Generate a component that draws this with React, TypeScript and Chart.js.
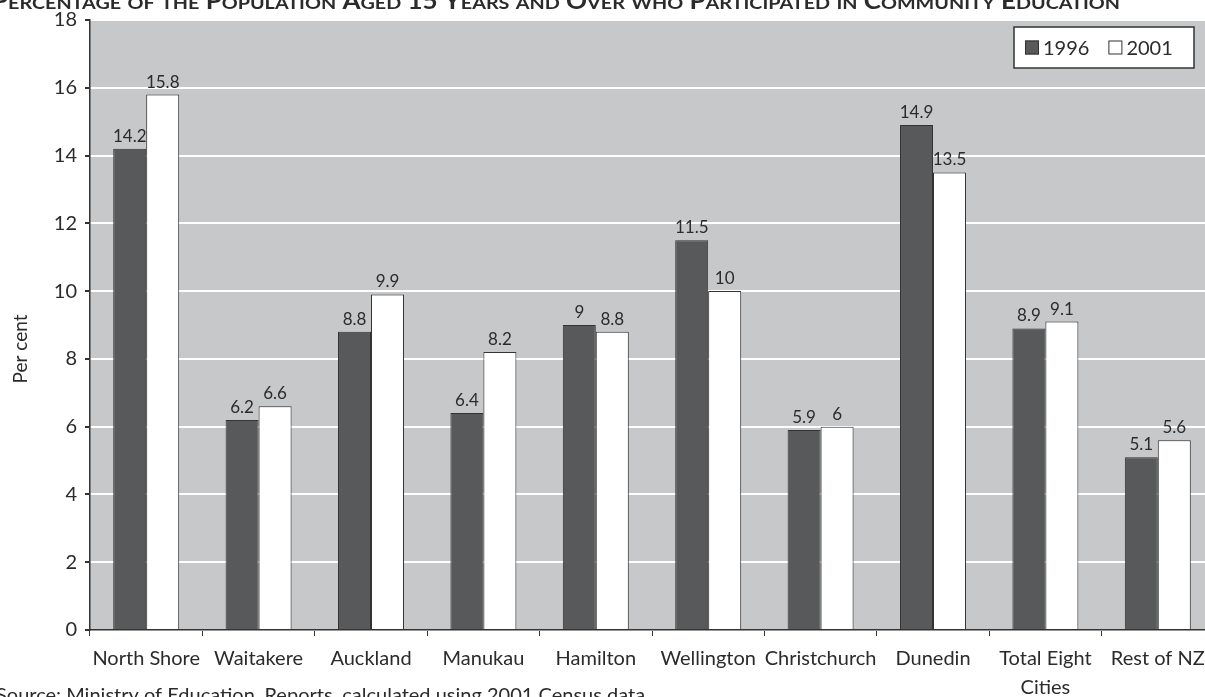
import React, { useEffect, useRef } from "react";
import { Chart, registerables } from "chart.js";

Chart.register(...registerables);

// ---- data ----
const categories: (string | string[])[] = [
  "North Shore",
  "Waitakere",
  "Auckland",
  "Manukau",
  "Hamilton",
  "Wellington",
  "Christchurch",
  "Dunedin",
  ["Total Eight", "Cities"],
  "Rest of NZ",
];
const values1996 = [14.2, 6.2, 8.8, 6.4, 9, 11.5, 5.9, 14.9, 8.9, 5.1];
const values2001 = [15.8, 6.6, 9.9, 8.2, 8.8, 10, 6, 13.5, 9.1, 5.6];
const seriesLabels = ["1996", "2001"];
const yMin = 0;
const yMax = 18;
const yStep = 2;
const titleText =
  "Percentage of the Population Aged 15 Years and Over who Participated in Community Education";
const yAxisTitle = "Per cent";
const sourceText =
  "Source: Ministry of Education, Reports, calculated using 2001 Census data";

// ---- style ----
const FONT = "Lato, 'Open Sans', sans-serif";
const TEXT = "#2b2b2b";
const DARK = "#58595b";
const EDGE = "#333333";
const PLOT_BG = "#c7c8ca";

const CANVAS_W = 1230;
const CANVAS_H = 697;

export default function App() {
  const ref = useRef<HTMLCanvasElement | null>(null);

  useEffect(() => {
    const canvas = ref.current;
    if (!canvas) return;

    const bgPlugin = {
      id: "plotBg",
      beforeDraw(chart: any) {
        const { ctx, chartArea } = chart;
        ctx.save();
        ctx.fillStyle = "#ffffff";
        ctx.fillRect(0, 0, chart.width, chart.height);
        ctx.fillStyle = PLOT_BG;
        ctx.fillRect(
          chartArea.left,
          chartArea.top,
          chartArea.right - chartArea.left,
          chartArea.bottom - chartArea.top
        );
        ctx.restore();
      },
    };

    const labelsPlugin = {
      id: "valueLabels",
      afterDatasetsDraw(chart: any) {
        const { ctx } = chart;
        ctx.save();
        ctx.font = `17px ${FONT}`;
        ctx.fillStyle = TEXT;
        ctx.textAlign = "center";
        ctx.textBaseline = "bottom";
        chart.data.datasets.forEach((ds: any, di: number) => {
          const meta = chart.getDatasetMeta(di);
          meta.data.forEach((el: any, i: number) => {
            ctx.fillText(String(ds.data[i]), el.x, el.y - 4);
          });
        });
        ctx.restore();
      },
    };

    const decorPlugin = {
      id: "decor",
      afterDraw(chart: any) {
        const { ctx } = chart;
        ctx.save();

        // small-caps title (partially cut at the top)
        const big = 23;
        const small = 17.5;
        const runs: { t: string; s: number }[] = [];
        for (const ch of titleText) {
          const isSmall = ch !== ch.toUpperCase();
          const s = isSmall ? small : big;
          const t = isSmall ? ch.toUpperCase() : ch;
          if (runs.length && runs[runs.length - 1].s === s) runs[runs.length - 1].t += t;
          else runs.push({ t, s });
        }
        let total = 0;
        runs.forEach((r) => {
          ctx.font = `bold ${r.s}px ${FONT}`;
          total += ctx.measureText(r.t).width;
        });
        const targetW = 1128;
        const k = targetW / total;
        ctx.save();
        ctx.translate(-8, 9);
        ctx.scale(k, 1);
        let x = 0;
        ctx.fillStyle = TEXT;
        ctx.textAlign = "left";
        ctx.textBaseline = "alphabetic";
        runs.forEach((r) => {
          ctx.font = `bold ${r.s}px ${FONT}`;
          ctx.fillText(r.t, x, 0);
          x += ctx.measureText(r.t).width;
        });
        ctx.restore();

        // y axis title
        ctx.save();
        ctx.translate(21, 349);
        ctx.rotate(-Math.PI / 2);
        ctx.font = `19px ${FONT}`;
        ctx.fillStyle = TEXT;
        ctx.textAlign = "center";
        ctx.textBaseline = "middle";
        ctx.fillText(yAxisTitle, 0, 0);
        ctx.restore();

        // source line (partially cut at the bottom)
        ctx.font = `20px ${FONT}`;
        ctx.fillStyle = TEXT;
        ctx.textAlign = "left";
        ctx.textBaseline = "alphabetic";
        ctx.fillText(sourceText, -4, 702);

        // legend box
        const bx = 1014, by = 27, bw = 180, bh = 41;
        ctx.fillStyle = "#ffffff";
        ctx.fillRect(bx, by, bw, bh);
        ctx.strokeStyle = EDGE;
        ctx.lineWidth = 1.5;
        ctx.strokeRect(bx, by, bw, bh);
        ctx.font = `20px ${FONT}`;
        ctx.textBaseline = "middle";
        let lx = bx + 11;
        const cy = by + bh / 2;
        chart.data.datasets.forEach((ds: any) => {
          ctx.fillStyle = ds.backgroundColor;
          ctx.fillRect(lx, cy - 7, 14, 14);
          ctx.strokeStyle = EDGE;
          ctx.lineWidth = 1;
          ctx.strokeRect(lx + 0.5, cy - 6.5, 13, 13);
          ctx.fillStyle = TEXT;
          ctx.fillText(ds.label, lx + 18, cy + 1);
          lx += 18 + ctx.measureText(ds.label).width + 19;
        });

        ctx.restore();
      },
    };

    const chart = new Chart(canvas, {
      type: "bar",
      data: {
        labels: categories as any,
        datasets: [
          {
            label: seriesLabels[0],
            data: values1996,
            backgroundColor: DARK,
            borderColor: EDGE,
            borderWidth: 1,
          },
          {
            label: seriesLabels[1],
            data: values2001,
            backgroundColor: "#ffffff",
            borderColor: EDGE,
            borderWidth: 1,
          },
        ],
      },
      options: {
        responsive: false,
        animation: false,
        devicePixelRatio: 1,
        layout: { padding: { left: 0, top: 20, right: CANVAS_W - 1214, bottom: 0 } },
        datasets: {
          bar: { categoryPercentage: 0.587, barPercentage: 1 },
        },
        plugins: {
          legend: { display: false },
          title: { display: false },
          tooltip: { enabled: false },
        },
        scales: {
          x: {
            afterFit(scale: any) {
              scale.height = 67;
            },
            grid: {
              display: true,
              drawOnChartArea: false,
              drawTicks: true,
              tickLength: 6,
              tickColor: EDGE,
              offset: true,
            },
            border: { display: true, color: EDGE, width: 1.5 },
            ticks: {
              autoSkip: false,
              maxRotation: 0,
              minRotation: 0,
              padding: 8,
              color: TEXT,
              font: { family: FONT, size: 20, lineHeight: 1.45 },
            },
          },
          y: {
            min: yMin,
            max: yMax,
            afterFit(scale: any) {
              scale.width = 90;
            },
            grid: {
              color: "#ffffff",
              lineWidth: 2,
              drawTicks: true,
              tickLength: 5,
              tickColor: EDGE,
            },
            border: { display: true, color: EDGE, width: 1.5 },
            ticks: {
              stepSize: yStep,
              padding: 8,
              color: TEXT,
              font: { family: FONT, size: 20 },
            },
          },
        },
      },
      plugins: [bgPlugin, labelsPlugin, decorPlugin],
    });

    return () => chart.destroy();
  }, []);

  return (
    <div
      style={{
        position: "absolute",
        left: 0,
        top: 0,
        width: 1205,
        height: 697,
        overflow: "hidden",
        background: "#ffffff",
      }}
    >
      <canvas
        ref={ref}
        width={CANVAS_W}
        height={CANVAS_H}
        style={{ width: CANVAS_W, height: CANVAS_H, display: "block" }}
      />
    </div>
  );
}
